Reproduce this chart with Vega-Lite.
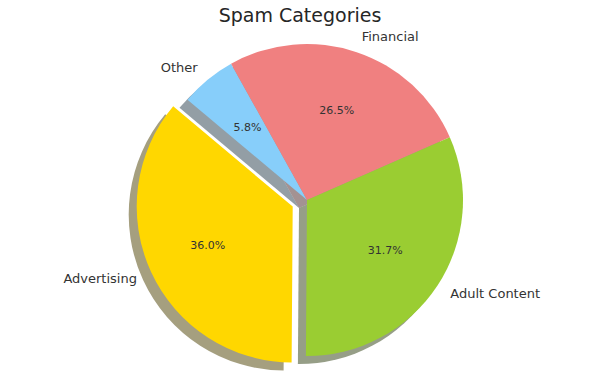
{
  "$schema": "https://vega.github.io/schema/vega-lite/v6.json",
  "autosize": "none",
  "width": 312,
  "height": 312,
  "padding": {"left": 151, "top": 44, "right": 137, "bottom": 28},
  "background": "white",
  "config": {"view": {"stroke": null}, "font": "DejaVu Sans"},
  "title": {"text": "Spam Categories", "fontSize": 19, "fontWeight": "normal", "font": "DejaVu Sans", "color": "#262626", "anchor": "middle", "dx": -7, "offset": 5},
  "data": {"values": [
    {"category": "Advertising", "value": 0.360, "idx": 1},
    {"category": "Other", "value": 0.058, "idx": 2},
    {"category": "Financial", "value": 0.265, "idx": 3},
    {"category": "Adult Content", "value": 0.317, "idx": 4}
  ]},
  "encoding": {
    "theta": {"field": "value", "type": "quantitative", "stack": true, "scale": {"domain": [0, 1], "range": [-3.1346, 3.1486]}},
    "order": {"field": "idx", "type": "quantitative"},
    "detail": {"field": "category", "type": "nominal"}
  },
  "layer": [
    {
      "mark": {"type": "arc", "xOffset": -8, "yOffset": 8},
      "encoding": {
        "fill": {"field": "category", "type": "nominal", "legend": null, "scale": {"domain": ["Advertising", "Other", "Financial", "Adult Content"], "range": ["#4c4000", "#283e4b", "#482626", "#2e3d0f"]}},
        "fillOpacity": {"condition": {"test": "datum.category === 'Advertising'", "value": 0}, "value": 0.5}
      }
    },
    {
      "mark": {"type": "arc", "xOffset": -22.3, "yOffset": 14.6},
      "encoding": {
        "fill": {"field": "category", "type": "nominal", "legend": null},
        "fillOpacity": {"condition": {"test": "datum.category === 'Advertising'", "value": 0.5}, "value": 0}
      }
    },
    {
      "mark": {"type": "arc"},
      "encoding": {
        "color": {"field": "category", "type": "nominal", "legend": null, "scale": {"domain": ["Advertising", "Other", "Financial", "Adult Content"], "range": ["#ffd700", "#87cefa", "#f08080", "#9acd32"]}},
        "opacity": {"condition": {"test": "datum.category === 'Advertising'", "value": 0}, "value": 1}
      }
    },
    {
      "mark": {"type": "arc", "xOffset": -14.3, "yOffset": 6.6},
      "encoding": {
        "color": {"field": "category", "type": "nominal", "legend": null},
        "opacity": {"condition": {"test": "datum.category === 'Advertising'", "value": 1}, "value": 0}
      }
    },
    {
      "mark": {"type": "text", "radius": 171.6, "align": "left", "baseline": "middle", "fontSize": 13, "color": "#333333"},
      "encoding": {
        "text": {"condition": {"test": "datum.category === 'Financial' || datum.category === 'Adult Content'", "field": "category"}, "value": ""}
      }
    },
    {
      "mark": {"type": "text", "radius": 171.6, "align": "right", "baseline": "middle", "fontSize": 13, "color": "#333333"},
      "encoding": {
        "text": {"condition": {"test": "datum.category === 'Other'", "field": "category"}, "value": ""}
      }
    },
    {
      "mark": {"type": "text", "radius": 171.6, "align": "right", "baseline": "middle", "fontSize": 13, "color": "#333333", "xOffset": -14.3, "yOffset": 6.6},
      "encoding": {
        "text": {"condition": {"test": "datum.category === 'Advertising'", "field": "category"}, "value": ""}
      }
    },
    {
      "mark": {"type": "text", "radius": 93.6, "align": "center", "baseline": "middle", "fontSize": 11, "color": "#333333"},
      "encoding": {
        "text": {"condition": {"test": "datum.category !== 'Advertising'", "field": "value", "format": ".1%"}, "value": ""}
      }
    },
    {
      "mark": {"type": "text", "radius": 93.6, "align": "center", "baseline": "middle", "fontSize": 11, "color": "#333333", "xOffset": -14.3, "yOffset": 6.6},
      "encoding": {
        "text": {"condition": {"test": "datum.category === 'Advertising'", "field": "value", "format": ".1%"}, "value": ""}
      }
    }
  ]
}
